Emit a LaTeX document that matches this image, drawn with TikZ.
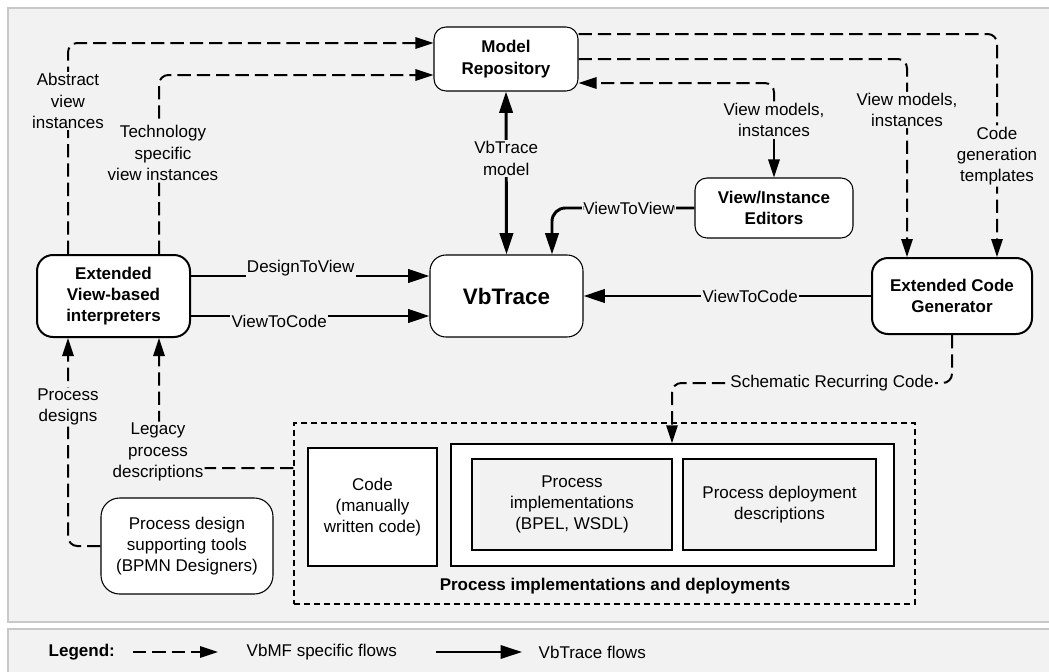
\documentclass[tikz,border=0pt]{standalone}
\usepackage{fontspec}
\setmainfont{Liberation Sans}
\usepackage{tikz}
\usetikzlibrary{arrows.meta,positioning,calc}
\definecolor{panelgray}{RGB}{242,242,242}
\definecolor{rimgray} {RGB}{200,200,200}
\newcommand\txtfont{\fontsize{12.75}{16}\selectfont}
\newcommand\headfont{\fontsize{16.8}{20}\selectfont\bfseries}
\tikzset{
  rbox/.style  ={draw, rounded corners=9pt, fill=white, align=center,
                 font=\txtfont, line width=0.8pt, inner sep=2pt},
  hbox/.style  ={rbox, font=\txtfont\bfseries},
  tbox/.style  ={hbox, line width=1.5pt},
  sqbox/.style ={draw, fill=white, align=center, font=\txtfont,
                 line width=0.8pt},
  grpbox/.style={draw, dash pattern=on 4.5pt off 3pt, line width=0.9pt},
  lbl/.style   ={fill=panelgray, inner sep=1pt, align=center, font=\txtfont},
  arr/.style   ={line width=2.2pt, -{Triangle[length=16pt,width=10pt]}},
  barr/.style  ={line width=2.2pt,
                 {Triangle[length=16pt,width=10pt]}-{Triangle[length=16pt,width=10pt]}},
  darr/.style  ={line width=1.5pt, dash pattern=on 10pt off 4.5pt,
                 rounded corners=7pt, -{Triangle[length=13.5pt,width=8.5pt]}},
}

\begin{document}
\begin{tikzpicture}[x=0.75pt,y=-0.75pt]
  \useasboundingbox (0,0) rectangle (1049,671);
  %% panels
  \draw[fill=panelgray, draw=rimgray, line width=1.2pt] (8,8) rectangle (1060,622);
  \draw[fill=panelgray, draw=rimgray, line width=1.2pt] (8,629) rectangle (1060,680);

  %% main nodes
  \node[hbox, minimum width=108pt, minimum height=48pt] (repo) at (506,59) {Model\\Repository};
  \node[rbox, font=\headfont, minimum width=114.75pt, minimum height=61.5pt,
        rounded corners=12pt] (vbtrace) at (506.5,296) {VbTrace};
  \node[hbox, minimum width=118.5pt, minimum height=45pt] (editors) at (774,208) {View/Instance\\Editors};
  \node[tbox, minimum width=120pt, minimum height=57pt, rounded corners=12pt] (ecg) at (952,296) {Extended Code\\Generator};
  \node[tbox, minimum width=114.75pt, minimum height=61.5pt, rounded corners=12pt] (interp) at (113.5,296) {Extended\\View-based\\interpreters};
  \node[rbox, minimum width=129pt, minimum height=72pt, rounded corners=14pt] (pdst) at (187,546) {Process design\\supporting tools\\(BPMN Designers)};

  %% implementations group
  \node[grpbox, minimum width=465.75pt, minimum height=135.75pt] (impl) at (604.5,513.5) {};
  \node[sqbox, minimum width=96.75pt, minimum height=88.5pt] (code) at (372.5,507) {Code\\(manually\\written code)};
  \node[sqbox, line width=1.1pt, minimum width=332.25pt, minimum height=91.5pt] (bigbox) at (672.5,505) {};
  \node[sqbox, fill=panelgray, minimum width=150pt, minimum height=68.25pt] (bpel) at (572,504.5) {Process\\implementations\\(BPEL, WSDL)};
  \node[sqbox, fill=panelgray, minimum width=144.75pt, minimum height=68.25pt] (deploy) at (779.5,504.5) {Process deployment\\descriptions};
  \node[font=\txtfont\bfseries] (impltitle) at (615,586) {Process implementations and deployments};

  %% VbTrace flows
  \draw[barr] (vbtrace.north) -- (repo.south) node[lbl, pos=0.59] {VbTrace\\model};
  \draw[arr, rounded corners=10pt] (editors.west) -| (vbtrace.north -| 552,0) node[lbl, pos=0.23] {ViewToView};
  \draw[arr] (interp.east |- 0,276) -- (vbtrace.west |- 0,276) node[lbl, pos=0.46, yshift=6pt] {DesignToView};
  \draw[arr] (interp.east |- 0,316) -- (vbtrace.west |- 0,316) node[lbl, pos=0.37, yshift=-3.75pt] {ViewToCode};
  \draw[arr] (ecg.west) -- (vbtrace.east) node[lbl, pos=0.42] {ViewToCode};

  %% VbMF flows
  \draw[darr] (interp.north -| 68,0) |- (repo.west |- 0,43) node[lbl] at (68,101) {Abstract\\view\\instances};
  \draw[darr] (interp.north -| 159,0) |- (repo.west |- 0,75) node[lbl] at (163,153) {Technology\\specific\\view instances};
  \draw[darr] (repo.east |- 0,59) -| (ecg.north -| 907,0) node[lbl] at (907,110) {View models,\\instances};
  \draw[darr] (repo.east |- 0,34) -| (ecg.north -| 997,0) node[lbl] at (997,156) {Code\\generation\\templates};
  \node[lbl] (edlbl) at (774,120) {View models,\\instances};
  \draw[darr] (edlbl.north) |- (repo.east |- 0,83);
  \draw[line width=1.5pt, -{Triangle[length=13.5pt,width=8.5pt]}] (edlbl.south) -- (editors.north);
  \draw[darr] (ecg.south) |- (672,383) -- (bigbox.north -| 672,0) node[lbl] at (832,383) {Schematic Recurring Code};
  \draw[darr] (pdst.west) -| (interp.south -| 68,0) node[lbl] at (68,407) {Process\\designs};
  \draw[darr] (impl.west |- 0,468) -| (interp.south -| 159,0) node[lbl] at (158,452) {Legacy\\process\\descriptions};

  %% legend
  \node[font=\txtfont\bfseries, anchor=west] (legend) at (44,652) {Legend:};
  \coordinate (ld1) at (133,652);
  \coordinate (ld2) at (218,652);
  \draw[darr] (ld1) -- (ld2);
  \node[font=\txtfont, anchor=west] (lvbmf) at (242,652) {VbMF specific flows};
  \coordinate (ls1) at (436,652);
  \coordinate (ls2) at (522,652);
  \draw[arr, line width=1.5pt] (ls1) -- (ls2);
  \node[font=\txtfont, anchor=west] (lvbt) at (534,652) {VbTrace flows};
\end{tikzpicture}
\end{document}
